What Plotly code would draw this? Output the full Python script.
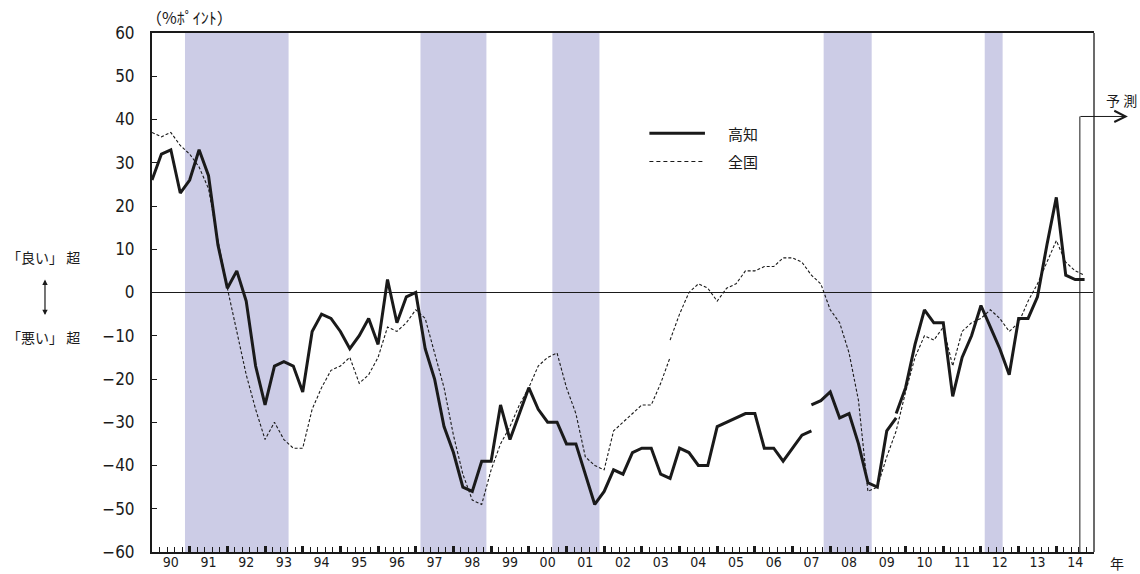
import plotly.graph_objects as go

# ---------------- data ----------------
years = ["90", "91", "92", "93", "94", "95", "96", "97", "98", "99",
         "00", "01", "02", "03", "04", "05", "06", "07", "08", "09",
         "10", "11", "12", "13", "14"]
quarters_per_year = 4

# Kochi DI (quarter index 0 = 1990 Q1); three segments (basis changes)
kochi_old_start = 0
kochi_old = [26, 32, 33, 23, 26, 33, 27, 11, 1, 5,
             -2, -17, -26, -17, -16, -17, -23, -9, -5, -6,
             -9, -13, -10, -6, -12, 3, -7, -1, 0, -13,
             -20, -31, -37, -45, -46, -39, -39, -26, -34, -28,
             -22, -27, -30, -30, -35, -35, -42, -49, -46, -41,
             -42, -37, -36, -36, -42, -43, -36, -37, -40, -40,
             -31, -30, -29, -28, -28, -36, -36, -39, -36, -33,
             -32]
kochi_mid_start = 70
kochi_mid = [-26, -25, -23, -29, -28, -35, -44, -45, -32, -29]
kochi_new_start = 79
kochi_new = [-28, -22, -12, -4, -7, -7, -24, -15, -10, -3,
             -8, -13, -19, -6, -6, -1, 11, 22, 4, 3, 3]

# National DI, two segments
national_old_start = 0
national_old = [37, 36, 37, 34, 32, 29, 24, 12, 1, -9,
                -19, -27, -34, -30, -34, -36, -36, -27, -22, -18,
                -17, -15, -21, -19, -15, -8, -9, -7, -4, -6,
                -14, -22, -33, -42, -48, -49, -41, -35, -31, -26,
                -22, -17, -15, -14, -22, -28, -38, -40, -41, -32,
                -30, -28, -26, -26, -21, -15]
national_new_start = 55
national_new = [-11, -5, 0, 2, 1, -2, 1, 2, 5, 5,
                6, 6, 8, 8, 7, 4, 2, -4, -7, -14,
                -25, -46, -45, -38, -32, -23, -15, -10, -11, -8,
                -17, -9, -7, -6, -4, -6, -9, -7, -2, 2,
                7, 12, 7, 5, 4]

# Recession periods (in quarter-index units)
band_start = [3.5, 28.5, 42.5, 71.3, 88.4]
band_end = [14.5, 35.5, 47.5, 76.4, 90.3]

forecast_x = 98.5
y_ticks = list(range(-60, 61, 10))

# ---------------- figure ----------------
NUM_FONT = "Liberation Sans Narrow, DejaVu Sans Condensed, Liberation Sans, sans-serif"
JP_FONT = "Noto Sans CJK JP, sans-serif"
INK = "#1a1a1a"

n_years = len(years)
x_max = n_years * quarters_per_year

fig = go.Figure()


def seg_x(start, vals):
    return list(range(start, start + len(vals)))


for start, vals in [(kochi_old_start, kochi_old), (kochi_mid_start, kochi_mid),
                    (kochi_new_start, kochi_new)]:
    fig.add_trace(go.Scatter(x=seg_x(start, vals), y=vals, mode="lines",
                             line=dict(color=INK, width=3), name="高知",
                             showlegend=False, hoverinfo="skip"))

for start, vals in [(national_old_start, national_old),
                    (national_new_start, national_new)]:
    fig.add_trace(go.Scatter(x=seg_x(start, vals), y=vals, mode="lines",
                             line=dict(color=INK, width=1.1, dash="3px,2px"),
                             name="全国", showlegend=False, hoverinfo="skip"))

# dummy traces to activate overlay tick axes
for ax in ["x2", "x3"]:
    fig.add_trace(go.Scatter(x=[0, x_max], y=[-60, -60], xaxis=ax, yaxis="y",
                             mode="lines", line=dict(width=0), showlegend=False,
                             hoverinfo="skip"))

shapes = []
for s, e in zip(band_start, band_end):
    shapes.append(dict(type="rect", xref="x", yref="y", x0=s, x1=e, y0=-60, y1=60,
                       fillcolor="#ccccE6", line=dict(width=0), layer="below"))
# forecast vertical line
shapes.append(dict(type="line", xref="x", yref="y", x0=forecast_x, x1=forecast_x,
                   y0=-60, y1=40.7, line=dict(color=INK, width=1)))
# right border (gray)
shapes.append(dict(type="line", xref="paper", yref="paper", x0=1, x1=1, y0=0, y1=1,
                   line=dict(color="#6b6b6b", width=2)))
# legend samples
shapes.append(dict(type="line", xref="x", yref="y", x0=52.8, x1=58.7, y0=36.8, y1=36.8,
                   line=dict(color=INK, width=3)))
shapes.append(dict(type="line", xref="x", yref="y", x0=52.8, x1=58.7, y0=30.3, y1=30.3,
                   line=dict(color=INK, width=1.1, dash="4px,3px")))

annotations = [
    dict(text="（%ﾎﾟｲﾝﾄ）", xref="paper", yref="paper", x=-0.008, y=1.031,
         xanchor="left", yanchor="middle", showarrow=False,
         font=dict(family=JP_FONT, size=16, color=INK)),
    dict(text="「良い」 超", xref="paper", yref="y", x=-0.115, y=8.2,
         xanchor="center", yanchor="middle", showarrow=False,
         font=dict(family=JP_FONT, size=14, color=INK)),
    dict(text="「悪い」 超", xref="paper", yref="y", x=-0.115, y=-10.4,
         xanchor="center", yanchor="middle", showarrow=False,
         font=dict(family=JP_FONT, size=14, color=INK)),
    dict(text="", xref="paper", yref="y", x=-0.1136, y=3.0, ax=0, ay=37,
         showarrow=True, arrowside="end+start", arrowhead=2, arrowsize=0.9,
         arrowwidth=1.2, arrowcolor=INK, standoff=0, startstandoff=0),
    dict(text="年", xref="paper", yref="paper", x=1.0244, y=-0.021,
         xanchor="center", yanchor="middle", showarrow=False,
         font=dict(family=JP_FONT, size=14, color=INK)),
    dict(text="予 測", xref="paper", yref="y", x=1.0287, y=44.6,
         xanchor="center", yanchor="middle", showarrow=False,
         font=dict(family=JP_FONT, size=14, color=INK)),
    dict(text="", xref="paper", yref="y", x=1.036, y=40.7, ax=-49, ay=0,
         showarrow=True, arrowhead=5, arrowsize=2.2, arrowwidth=1,
         arrowcolor=INK, standoff=0),
    dict(text="高知", xref="x", yref="y", x=60.9, y=36.8, xanchor="left",
         yanchor="middle", showarrow=False,
         font=dict(family=JP_FONT, size=15, color=INK)),
    dict(text="全国", xref="x", yref="y", x=60.9, y=30.3, xanchor="left",
         yanchor="middle", showarrow=False,
         font=dict(family=JP_FONT, size=15, color=INK)),
]

year_mid = [i * quarters_per_year + quarters_per_year / 2 for i in range(n_years)]
year_edges = [i * quarters_per_year for i in range(n_years + 1)]

fig.update_layout(
    width=1140, height=574,
    margin=dict(l=152, r=46, t=33, b=22, autoexpand=False),
    plot_bgcolor="white", paper_bgcolor="white",
    showlegend=False,
    shapes=shapes, annotations=annotations,
    xaxis=dict(range=[0, x_max], tickmode="array", tickvals=year_mid,
               ticktext=years, ticks="", showgrid=False, zeroline=False,
               showline=True, linecolor=INK, linewidth=2, mirror=True,
               automargin=False, ticklabelstandoff=-4,
               tickfont=dict(family=NUM_FONT, size=14, color=INK)),
    xaxis2=dict(range=[0, x_max], overlaying="x", anchor="y", side="bottom",
                tickmode="linear", tick0=0, dtick=quarters_per_year / 5,
                ticks="inside", ticklen=5, tickwidth=1, tickcolor=INK,
                showticklabels=False, showgrid=False, zeroline=False,
                showline=False, automargin=False),
    xaxis3=dict(range=[0, x_max], overlaying="x", anchor="y", side="bottom",
                tickmode="array", tickvals=year_edges,
                ticks="inside", ticklen=6, tickwidth=3, tickcolor=INK,
                showticklabels=False, showgrid=False, zeroline=False,
                showline=False, automargin=False),
    yaxis=dict(range=[-60, 60], tickmode="array", tickvals=y_ticks,
               ticks="inside", ticklen=5, tickwidth=1, tickcolor=INK,
               showgrid=False, zeroline=True, zerolinecolor=INK,
               zerolinewidth=1.2, showline=True, linecolor=INK, linewidth=2,
               ticklabelstandoff=12, automargin=False,
               tickfont=dict(family=NUM_FONT, size=17, color=INK)),
)

fig.write_html("out.html", config={"displayModeBar": False},
               post_script="document.body.style.margin='0';")
